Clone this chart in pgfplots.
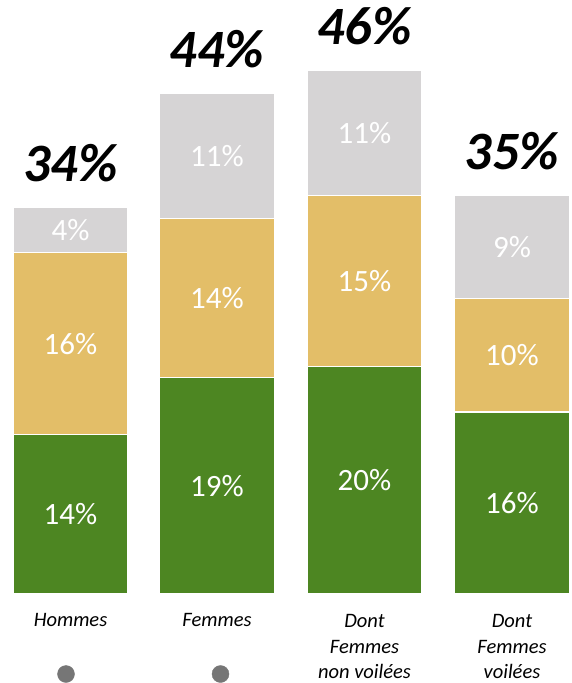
\documentclass[border=0pt]{standalone}
\usepackage{pgfplots}
\pgfplotsset{compat=1.18}
\usepackage{fontspec}
\setmainfont{Carlito}
\definecolor{cgreen}{RGB}{77,134,34}
\definecolor{cyellow}{RGB}{227,190,104}
\definecolor{cgrey}{RGB}{214,212,213}
\definecolor{dotgray}{RGB}{118,118,118}
\begin{document}
\begin{tikzpicture}
\pgfplotsset{base/.style={width=572pt,height=683pt,scale only axis,
  xmin=0,xmax=572,ymin=-7.82,ymax=52.2,hide axis,clip=false}}
\begin{axis}[base, ybar stacked, bar width=115pt]
\addplot[fill=cgreen, draw=white, line width=1.2pt] coordinates {(70.5,14) (217,19) (364.5,20) (512,16)};
\addplot[fill=cyellow, draw=white, line width=1.2pt] coordinates {(70.5,16) (217,14) (364.5,15) (512,10)};
\addplot[fill=cgrey, draw=white, line width=1.2pt] coordinates {(70.5,4) (217,11) (364.5,11) (512,9)};
\path (rel axis cs:0,0) rectangle (rel axis cs:1,1);
\end{axis}
\begin{axis}[base]
% segment labels
\addplot[draw=none, mark=none, nodes near coords, point meta=explicit symbolic,
  every node near coord/.style={anchor=center, inner sep=0pt, text=white, font=\fontsize{31}{36}\selectfont}]
  coordinates {(70.5,7)[14\%] (70.5,22)[16\%] (70.5,32)[4\%]
               (217,9.5)[19\%] (217,26)[14\%] (217,38.5)[11\%]
               (364.5,10)[20\%] (364.5,27.5)[15\%] (364.5,40.5)[11\%]
               (512,8)[16\%] (512,21)[10\%] (512,30.5)[9\%]};
% totals
\addplot[draw=none, mark=none, nodes near coords, point meta=explicit symbolic,
  every node near coord/.style={anchor=base, inner sep=0pt, yshift=26pt, text=black, font=\fontsize{54}{60}\selectfont\bfseries\itshape}]
  coordinates {(70.5,34)[34\%] (217,44)[44\%] (364.5,46)[46\%] (512,35)[35\%]};
% category labels
\addplot[draw=none, mark=none, nodes near coords, point meta=explicit symbolic,
  every node near coord/.style={anchor=north, inner sep=0pt, align=center, text=black, font=\fontsize{20.5}{25.5}\selectfont\itshape}]
  coordinates {(70.5,-1.72)[Hommes] (217,-1.72)[Femmes] (364.5,-1.8)[Dont\\Femmes\\non voilées] (512,-1.8)[Dont\\Femmes\\voilées]};
% dots
\addplot[only marks, mark=*, mark size=8.5pt, color=dotgray] coordinates {(66,-7.03) (220.5,-7.03)};
\end{axis}
\end{tikzpicture}
\end{document}
